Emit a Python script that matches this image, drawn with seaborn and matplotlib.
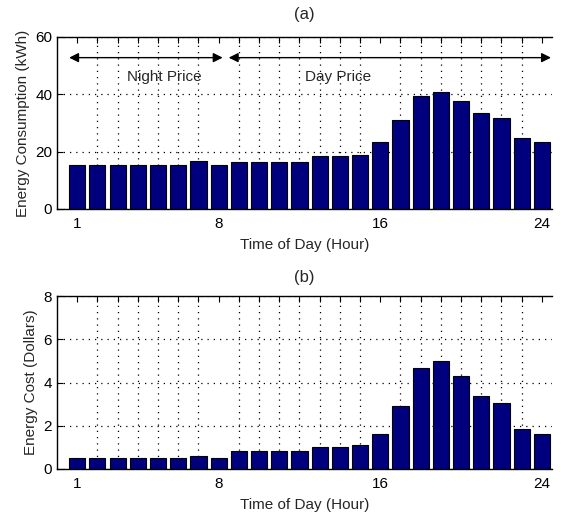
import numpy as np
import pandas as pd
import seaborn as sns
import matplotlib
matplotlib.use("Agg")
import matplotlib.pyplot as plt
from matplotlib.ticker import MultipleLocator, FixedLocator

hours = list(range(1, 25))
consumption = [15.2, 15.2, 15.2, 15.2, 15.2, 15.2, 16.7, 15.2,
               16.3, 16.3, 16.3, 16.3, 18.5, 18.5, 18.9, 23.2,
               31.0, 39.3, 40.7, 37.7, 33.4, 31.7, 24.7, 23.2]
cost = [0.49, 0.49, 0.49, 0.49, 0.49, 0.49, 0.58, 0.49,
        0.81, 0.81, 0.81, 0.81, 1.03, 1.04, 1.09, 1.64,
        2.91, 4.65, 4.99, 4.28, 3.38, 3.03, 1.83, 1.63]
xtick_labels = [1, 8, 16, 24]

BAR_COLOR = "#00007f"
GRID_STYLE = (0, (1, 4))

sns.set_style("white")
plt.rcParams["font.family"] = ["Liberation Sans", "DejaVu Sans"]
plt.rcParams["font.size"] = 10.5

df = pd.DataFrame({"hour": hours, "consumption": consumption, "cost": cost})

fig = plt.figure(figsize=(5.61, 5.15), dpi=100)
ax_a = fig.add_axes([57 / 561, 1 - 209 / 515, 495 / 561, 172 / 515])
ax_b = fig.add_axes([57 / 561, 1 - 469 / 515, 495 / 561, 173 / 515])


def style_axes(ax, ymax, ystep, ylabel, title, title_pad):
    ax.set_xlim(0, 24.5)
    ax.set_ylim(0, ymax)
    ax.xaxis.set_major_locator(FixedLocator(xtick_labels))
    ax.xaxis.set_minor_locator(FixedLocator(hours))
    ax.yaxis.set_major_locator(MultipleLocator(ystep))
    ax.set_xticklabels([str(v) for v in xtick_labels])
    ax.grid(True, which="minor", axis="x", linestyle=GRID_STYLE, color="black", linewidth=0.9)
    ax.grid(True, which="major", axis="y", linestyle=GRID_STYLE, color="black", linewidth=0.9)
    ax.set_axisbelow(True)
    ax.tick_params(which="both", direction="in", top=True, bottom=False,
                   left=True, right=False, length=4, width=0.8, colors="black",
                   labelsize=11)
    ax.tick_params(axis="x", pad=6)
    for side in ["left", "top", "bottom"]:
        ax.spines[side].set_visible(True)
        ax.spines[side].set_color("black")
        ax.spines[side].set_linewidth(1.0)
    ax.spines["right"].set_visible(False)
    ax.set_xlabel("Time of Day (Hour)", fontsize=11, labelpad=5)
    ax.set_ylabel(ylabel, fontsize=11)
    ax.set_title(title, fontsize=12, pad=title_pad)


sns.barplot(data=df, x="hour", y="consumption", native_scale=True, ax=ax_a,
            color=BAR_COLOR, saturation=1, width=0.8, edgecolor="black", linewidth=0.8)
sns.barplot(data=df, x="hour", y="cost", native_scale=True, ax=ax_b,
            color=BAR_COLOR, saturation=1, width=0.8, edgecolor="black", linewidth=0.8)

style_axes(ax_a, 60, 20, "Energy Consumption (kWh)", "(a)", 13)
style_axes(ax_b, 8, 2, "Energy Cost (Dollars)", "(b)", 10)

# price period arrows
arrow_kw = dict(arrowstyle="<|-|>", color="black", lw=1.0, mutation_scale=14,
                shrinkA=0, shrinkB=0)
ax_a.annotate("", xy=(0.6, 52.8), xytext=(8.2, 52.8), arrowprops=arrow_kw)
ax_a.annotate("", xy=(8.5, 52.8), xytext=(24.45, 52.8), arrowprops=arrow_kw)
ax_a.text(5.3, 46, "Night Price", ha="center", va="center", fontsize=11)
ax_a.text(13.9, 46, "Day Price", ha="center", va="center", fontsize=11)

fig.savefig("out.png", dpi=100)
